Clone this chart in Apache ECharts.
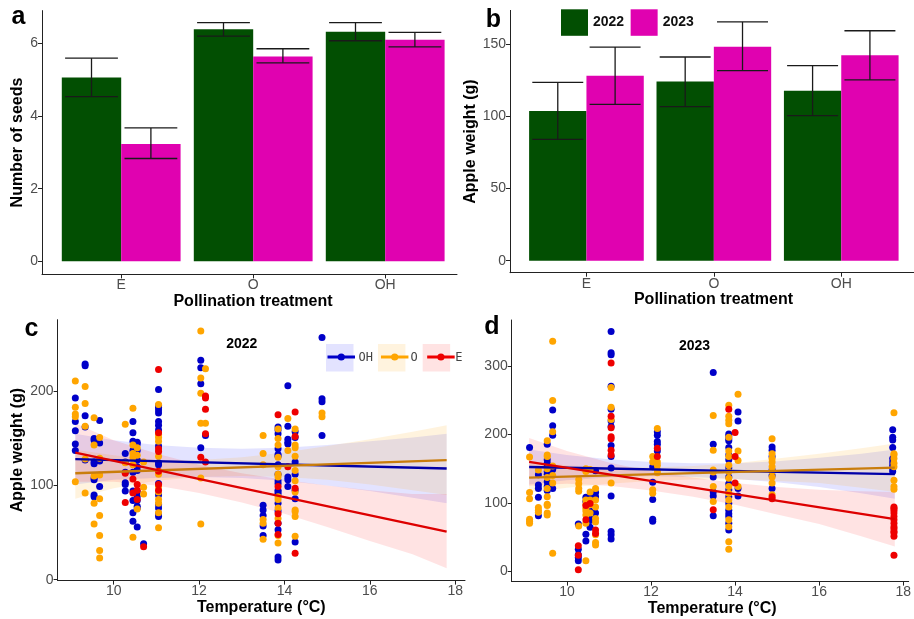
<!DOCTYPE html>
<html><head><meta charset="utf-8">
<script src="https://cdn.jsdelivr.net/npm/echarts@6/dist/echarts.min.js"></script>
<style>html,body{margin:0;padding:0;background:#fff}#c{width:914px;height:619px}</style>
</head><body><div id="c"></div>
<script>
// ---------------- DATA ----------------
const categories = ['E', 'O', 'OH'];
// panel a: number of seeds (mean, lower, upper)
const seeds2022 = [5.06, 6.39, 6.32];
const seedsLo2022 = [4.53, 6.20, 6.07];
const seedsHi2022 = [5.59, 6.57, 6.57];
const seeds2023 = [3.23, 5.64, 6.10];
const seedsLo2023 = [2.83, 5.46, 5.90];
const seedsHi2023 = [3.67, 5.85, 6.30];
// panel b: apple weight (g)
const weight2022 = [103.8, 124.3, 117.8];
const weightLo2022 = [84.1, 106.8, 100.5];
const weightHi2022 = [123.6, 141.2, 135.2];
const weight2023 = [128.2, 148.3, 142.4];
const weightLo2023 = [108.4, 131.7, 125.3];
const weightHi2023 = [148.1, 165.5, 159.4];
const seedTicks = [0, 2, 4, 6];
const weightTicks = [0, 50, 100, 150];
const tempTicks = [10, 12, 14, 16, 18];
const weightTicksC = [0, 100, 200];
const weightTicksD = [0, 100, 200, 300];

// panel c (2022): [temperature, [apple weights]]
const pts2022OH = [
  [9.1, [193, 168, 158, 144, 137]],
  [9.33, [229, 227, 174, 162, 127]],
  [9.54, [150, 148, 125, 123, 108, 106, 90, 88]],
  [9.67, [169, 145, 126, 99]],
  [10.27, [134, 125, 114, 103, 101, 94]],
  [10.45, [168, 156, 147, 137, 114, 94, 84, 71, 62]],
  [10.55, [146, 144, 137, 127, 120, 116, 93, 88, 84, 78, 76, 56]],
  [10.7, [38]],
  [11.05, [202, 185, 183, 180, 177, 168, 164, 159, 142, 124, 122, 102, 90, 80, 76, 70, 67]],
  [12.04, [233, 225, 208, 140]],
  [12.15, [153]],
  [13.5, [79, 74, 68, 57, 47]],
  [13.85, [162, 159, 155, 139, 133, 131, 122, 112, 105, 102, 95, 93, 91, 81, 73, 60, 53, 24, 21]],
  [14.08, [206, 163, 149, 146, 144, 109, 106, 99]],
  [14.25, [157, 151, 125, 112, 95, 86, 40]],
  [14.88, [257, 192, 189, 153]]
];
const pts2022O = [
  [9.1, [211, 183, 176, 173, 104]],
  [9.33, [205, 187, 163, 128, 92]],
  [9.54, [172, 143, 110, 81, 59]],
  [9.67, [151, 129, 111, 86, 68, 47, 31, 23]],
  [10.27, [165, 124]],
  [10.45, [182, 143, 134, 130, 122, 45]],
  [10.55, [140, 132, 75]],
  [10.7, [125, 98, 91]],
  [11.05, [186, 154, 151, 147, 131, 112, 99, 93, 85, 81, 71, 55]],
  [12.04, [264, 214, 198, 166, 108, 59]],
  [12.15, [224, 166]],
  [13.5, [153, 134, 122, 64, 60, 43]],
  [13.85, [160, 150, 143, 130, 120, 112, 109, 88, 85, 76, 65, 47, 39]],
  [14.08, [171, 137]],
  [14.25, [160, 143, 140, 131, 116, 105, 93, 74, 72, 67, 46]],
  [14.88, [177, 173]]
];
const pts2022E = [
  [10.27, [113, 82]],
  [10.45, [107, 92]],
  [10.55, [101, 95, 85]],
  [10.7, [35]],
  [11.05, [223, 156, 139, 136, 115, 101, 95]],
  [12.04, [130]],
  [12.15, [195, 193, 181, 155, 125]],
  [13.85, [175, 99, 70, 60, 48]],
  [14.08, [120]],
  [14.25, [178, 152, 97, 28]]
];
// panel d (2023)
const pts2023OH = [
  [9.11, [181]],
  [9.32, [141, 126, 121, 108, 81]],
  [9.53, [186, 163, 158, 153, 146, 142, 131, 124, 118]],
  [9.66, [236, 213, 199, 151, 149, 121]],
  [10.27, [69, 32, 24, 20, 15]],
  [10.45, [108, 102, 54, 44]],
  [10.55, [109, 88, 77, 74, 64]],
  [10.68, [147, 115, 109, 85]],
  [11.05, [351, 320, 317, 271, 237, 220, 212, 184, 168, 151, 110, 58, 53, 47]],
  [12.04, [153, 130, 105, 76, 73]],
  [12.15, [204, 199, 190, 186, 176]],
  [13.48, [291, 186, 138, 116, 110, 81]],
  [13.85, [201, 198, 194, 191, 181, 170, 163, 151, 138, 128, 119, 109, 99, 89, 84, 80, 70, 60]],
  [14.07, [233, 220, 121, 110]],
  [14.88, [182, 177, 168, 148, 140, 121]],
  [17.75, [207, 196, 192, 181, 165, 160, 155, 150, 146]]
];
const pts2023O = [
  [9.11, [167, 115, 106, 76, 73, 70]],
  [9.32, [148, 93, 89, 86]],
  [9.53, [191, 170, 168, 150, 137, 121, 109, 98, 96, 85, 82]],
  [9.66, [337, 250, 204, 154, 140, 129, 26]],
  [10.28, [134, 128, 121, 117, 66]],
  [10.45, [150, 146, 104, 98, 92, 88, 82, 70, 15]],
  [10.55, [149, 116, 104, 97, 85]],
  [10.68, [121, 104, 94, 77, 72, 53, 42, 38]],
  [11.05, [269, 240, 222, 129]],
  [12.04, [168, 160, 119, 114]],
  [12.15, [209, 160, 155, 148, 144]],
  [13.48, [228, 177, 148, 145, 124, 102]],
  [13.85, [243, 227, 221, 216, 196, 176, 168, 155, 146, 136, 124, 114, 104, 94, 75, 65, 43, 32]],
  [14.07, [259, 176, 162, 124]],
  [14.88, [194, 172, 165, 160, 153, 146, 138, 129, 112]],
  [17.78, [232, 172, 170, 165, 158, 153, 133, 124, 120]]
];
const pts2023E = [
  [10.27, [37, 23, 2]],
  [10.45, [96, 75]],
  [10.55, [99]],
  [10.68, [60, 55]],
  [11.05, [305, 227, 210, 197, 194, 177, 170]],
  [12.15, [180, 168]],
  [13.48, [90]],
  [13.85, [237]],
  [14.0, [203, 168, 129]],
  [14.88, [109, 106]],
  [17.78, [94, 92, 89, 85, 80, 75, 70, 65, 62, 58, 56, 51, 23]]
];
// regression lines (endpoints)
const fit2022OH = [[9.1, 128], [17.8, 118]];
const fit2022O = [[9.1, 113], [17.8, 127]];
const fit2022E = [[9.1, 135], [17.8, 51]];
const fit2023OH = [[9.1, 152.5], [17.8, 142]];
const fit2023O = [[9.1, 137], [17.8, 151.5]];
const fit2023E = [[9.1, 160], [17.8, 76]];
// confidence bands
const bandTemps = [9.1, 10, 11, 12, 13, 14, 15, 16, 17, 17.8];
const band2022OHlo = [101, 106, 108, 109, 108, 105, 100, 94, 87, 81];
const band2022OHhi = [155, 148, 143, 140, 139, 140, 143, 147, 151, 155];
const band2022Olo = [86, 97, 105, 109, 110, 109, 106, 101, 95, 90];
const band2022Ohi = [138, 132, 127, 127, 130, 135, 142, 149, 157, 164];
const band2022Elo = [104, 104, 100, 92, 82, 70, 56, 41, 27, 12];
const band2022Ehi = [166, 148, 134, 122, 113, 106, 100, 95, 91, 91];
const band2023OHlo = [127, 133, 137, 139, 138, 135, 130, 123, 114, 106];
const band2023OHhi = [178, 170, 164, 160, 158, 158, 161, 166, 172, 178];
const band2023Olo = [115, 122, 128, 132, 134, 134, 132, 129, 122, 116];
const band2023Ohi = [160, 155, 152, 152, 154, 158, 165, 172, 180, 187];
const band2023Elo = [125, 128, 125, 118, 109, 97, 83, 69, 51, 36];
const band2023Ehi = [195, 176, 159, 146, 137, 129, 123, 119, 117, 116];

// ---------------- STYLE ----------------
const FONT = "'Liberation Sans', Arial, sans-serif";
const GREEN = '#024f02', PINK = '#e002b0';
const C_OH = '#0000c8', C_O = '#ffa500', C_E = '#ee0000';
const L_OH = '#0000a8', L_O = '#c97d0c', L_E = '#dd0000';
const F_OH = 'rgba(0,0,255,0.11)', F_O = 'rgba(255,165,0,0.13)', F_E = 'rgba(255,0,0,0.11)';
const AX = '#222', TXT = '#4d4d4d';

function axisCommon(gi, min, max, ticks, extra) {
  return Object.assign({
    type: 'value', gridIndex: gi, min, max, scale: false,
    axisLine: { show: true, onZero: false, lineStyle: { color: AX, width: 1 } },
    axisTick: { show: true, customValues: ticks, length: 4, lineStyle: { color: AX } },
    axisLabel: { customValues: ticks, color: TXT, fontSize: 14, fontFamily: FONT, margin: 4 },
    splitLine: { show: false },
    nameLocation: 'middle',
    nameTextStyle: { fontWeight: 'bold', fontSize: 16, color: '#000', fontFamily: FONT }
  }, extra || {});
}

function barSeries(name, gi, vals, off, color) {
  return {
    type: 'custom', name, xAxisIndex: gi, yAxisIndex: gi, itemStyle: { color },
    data: vals.map((v, i) => [i + 1, v]),
    renderItem(params, api) {
      const c = api.value(0) + off;
      const a = api.coord([c - 0.225, api.value(1)]);
      const b = api.coord([c + 0.225, 0]);
      return { type: 'rect', shape: { x: a[0], y: a[1], width: b[0] - a[0], height: b[1] - a[1] }, style: { fill: color } };
    }
  };
}
function errSeries(gi, lo, hi, off) {
  return {
    type: 'custom', name: 'err', xAxisIndex: gi, yAxisIndex: gi, z: 5,
    data: lo.map((v, i) => [i + 1, v, hi[i]]),
    renderItem(params, api) {
      const c = api.value(0) + off;
      const t = api.coord([c, api.value(2)]), b = api.coord([c, api.value(1)]);
      const tl = api.coord([c - 0.2, api.value(2)]), tr = api.coord([c + 0.2, api.value(2)]);
      const bl = api.coord([c - 0.2, api.value(1)]), br = api.coord([c + 0.2, api.value(1)]);
      const st = { stroke: '#1a1a1a', lineWidth: 1.3 };
      return { type: 'group', children: [
        { type: 'line', shape: { x1: t[0], y1: t[1], x2: b[0], y2: b[1] }, style: st },
        { type: 'line', shape: { x1: tl[0], y1: tl[1], x2: tr[0], y2: tr[1] }, style: st },
        { type: 'line', shape: { x1: bl[0], y1: bl[1], x2: br[0], y2: br[1] }, style: st }
      ] };
    }
  };
}
function ribbon(gi, xs, lo, hi, color) {
  return {
    type: 'custom', name: 'band', xAxisIndex: gi, yAxisIndex: gi, silent: true, z: 1,
    data: xs.map((x, i) => [x, lo[i], hi[i]]),
    renderItem(params, api) {
      if (params.dataIndex !== 0) return null;
      const pts = [];
      for (let i = 0; i < xs.length; i++) pts.push(api.coord([xs[i], hi[i]]));
      for (let i = xs.length - 1; i >= 0; i--) pts.push(api.coord([xs[i], lo[i]]));
      return { type: 'polygon', shape: { points: pts }, style: { fill: color } };
    }
  };
}
function expand(groups) {
  const out = [];
  groups.forEach(g => g[1].forEach(v => out.push([g[0], v])));
  return out;
}
function scatter(name, gi, groups, color) {
  return { type: 'scatter', name, xAxisIndex: gi, yAxisIndex: gi, symbolSize: 7, z: 3,
    itemStyle: { color, opacity: 1 }, data: expand(groups) };
}
function fitLine(name, gi, pts, color) {
  return { type: 'line', name, xAxisIndex: gi, yAxisIndex: gi, z: 4, data: pts,
    symbol: 'circle', showSymbol: false, lineStyle: { color, width: 2.3 }, itemStyle: { color } };
}

const fmtCat = v => categories[Math.round(v) - 1] || '';

const option = {
  animation: false,
  textStyle: { fontFamily: FONT },
  grid: [
    { left: 42, top: 10.6, width: 415, height: 263.8 },
    { left: 510, top: 10.4, width: 404, height: 262.3 },
    { left: 57.6, top: 319.7, width: 407.4, height: 260.9 },
    { left: 511.7, top: 320, width: 402.3, height: 261.6 }
  ],
  xAxis: [
    axisCommon(0, 0.4, 3.544, [1, 2, 3], { name: 'Pollination treatment', nameGap: 17,
      nameTextStyle: { fontWeight: 'bold', fontSize: 16, color: '#000', fontFamily: FONT, padding: [0, 0, 0, 7] },
      axisLabel: { customValues: [1, 2, 3], color: TXT, fontSize: 14, fontFamily: FONT, margin: 4, formatter: fmtCat } }),
    axisCommon(1, 0.4, 3.571, [1, 2, 3], { name: 'Pollination treatment', nameGap: 17,
      nameTextStyle: { fontWeight: 'bold', fontSize: 16, color: '#000', fontFamily: FONT, padding: [0, 0, 0, 3] },
      axisLabel: { customValues: [1, 2, 3], color: TXT, fontSize: 14, fontFamily: FONT, margin: 4, formatter: fmtCat } }),
    axisCommon(2, 8.685, 18.23, tempTicks, { name: 'Temperature (°C)', nameGap: 18 }),
    axisCommon(3, 8.685, 18.13, tempTicks, { name: 'Temperature (°C)', nameGap: 18,
      nameTextStyle: { fontWeight: 'bold', fontSize: 16, color: '#000', fontFamily: FONT, padding: [0, 0, 0, 4] } })
  ],
  yAxis: [
    axisCommon(0, -0.36, 6.9, seedTicks, { name: 'Number of seeds', nameGap: 16 }),
    axisCommon(1, -8.3, 173.5, weightTicks, { name: 'Apple weight (g)', nameGap: 31 }),
    axisCommon(2, -1, 276, weightTicksC, { name: 'Apple weight (g)', nameGap: 32 }),
    axisCommon(3, -15.5, 368, weightTicksD, {})
  ],
  legend: [
    { left: 561, top: 9.3, itemWidth: 27, itemHeight: 26.5, itemGap: 6.5, icon: 'rect', selectedMode: false, padding: 0,
      data: [{ name: '2022', itemStyle: { color: GREEN } }, { name: '2023', itemStyle: { color: PINK } }],
      textStyle: { fontWeight: 'bold', fontSize: 14, color: '#111', fontFamily: FONT } },
    { left: 326, top: 344, itemWidth: 27.5, itemHeight: 27.5, itemGap: 5, icon: 'rect', selectedMode: false, padding: 0,
      data: [{ name: 'OH', itemStyle: { color: F_OH } }, { name: 'O', itemStyle: { color: F_O } }, { name: 'E', itemStyle: { color: F_E } }],
      textStyle: { fontFamily: "'DejaVu Sans Mono', monospace", fontSize: 12, color: '#444' } },
    { left: 326, top: 351, itemWidth: 27.5, itemHeight: 9, itemGap: 5, selectedMode: false, padding: 0,
      lineStyle: { width: 3 },
      data: [
        { name: 'OH', itemStyle: { color: C_OH }, lineStyle: { color: C_OH, width: 3 } },
        { name: 'O', itemStyle: { color: C_O }, lineStyle: { color: C_O, width: 3 } },
        { name: 'E', itemStyle: { color: C_E }, lineStyle: { color: C_E, width: 3 } }
      ],
      textStyle: { fontFamily: "'DejaVu Sans Mono', monospace", fontSize: 12, color: 'rgba(0,0,0,0)' } }
  ],
  graphic: [
    { type: 'text', x: 18.5, y: 17, style: { text: 'a', font: "bold 25px " + FONT, fill: '#000', align: 'center', verticalAlign: 'middle' } },
    { type: 'text', x: 493.5, y: 20, style: { text: 'b', font: "bold 25px " + FONT, fill: '#000', align: 'center', verticalAlign: 'middle' } },
    { type: 'text', x: 31.5, y: 329.5, style: { text: 'c', font: "bold 25px " + FONT, fill: '#000', align: 'center', verticalAlign: 'middle' } },
    { type: 'text', x: 492, y: 327, style: { text: 'd', font: "bold 25px " + FONT, fill: '#000', align: 'center', verticalAlign: 'middle' } },
    { type: 'text', x: 241.7, y: 344.3, style: { text: '2022', font: "bold 14px " + FONT, fill: '#000', align: 'center', verticalAlign: 'middle' } },
    { type: 'text', x: 694.5, y: 346.2, style: { text: '2023', font: "bold 14px " + FONT, fill: '#000', align: 'center', verticalAlign: 'middle' } }
  ],
  series: [
    barSeries('2022', 0, seeds2022, -0.225, GREEN),
    barSeries('2023', 0, seeds2023, 0.225, PINK),
    errSeries(0, seedsLo2022, seedsHi2022, -0.225),
    errSeries(0, seedsLo2023, seedsHi2023, 0.225),
    barSeries('2022', 1, weight2022, -0.225, GREEN),
    barSeries('2023', 1, weight2023, 0.225, PINK),
    errSeries(1, weightLo2022, weightHi2022, -0.225),
    errSeries(1, weightLo2023, weightHi2023, 0.225),
    fitLine('OH', 2, fit2022OH, L_OH),
    fitLine('O', 2, fit2022O, L_O),
    fitLine('E', 2, fit2022E, L_E),
    fitLine('OH', 3, fit2023OH, L_OH),
    fitLine('O', 3, fit2023O, L_O),
    fitLine('E', 3, fit2023E, L_E),
    ribbon(2, bandTemps, band2022OHlo, band2022OHhi, F_OH),
    ribbon(2, bandTemps, band2022Olo, band2022Ohi, F_O),
    ribbon(2, bandTemps, band2022Elo, band2022Ehi, F_E),
    ribbon(3, bandTemps, band2023OHlo, band2023OHhi, F_OH),
    ribbon(3, bandTemps, band2023Olo, band2023Ohi, F_O),
    ribbon(3, bandTemps, band2023Elo, band2023Ehi, F_E),
    scatter('OH points', 2, pts2022OH, C_OH),
    scatter('O points', 2, pts2022O, C_O),
    scatter('E points', 2, pts2022E, C_E),
    scatter('OH points', 3, pts2023OH, C_OH),
    scatter('O points', 3, pts2023O, C_O),
    scatter('E points', 3, pts2023E, C_E)
  ]
};
const chart = echarts.init(document.getElementById('c'), null, { renderer: 'canvas' });
chart.setOption(option);
</script></body></html>
